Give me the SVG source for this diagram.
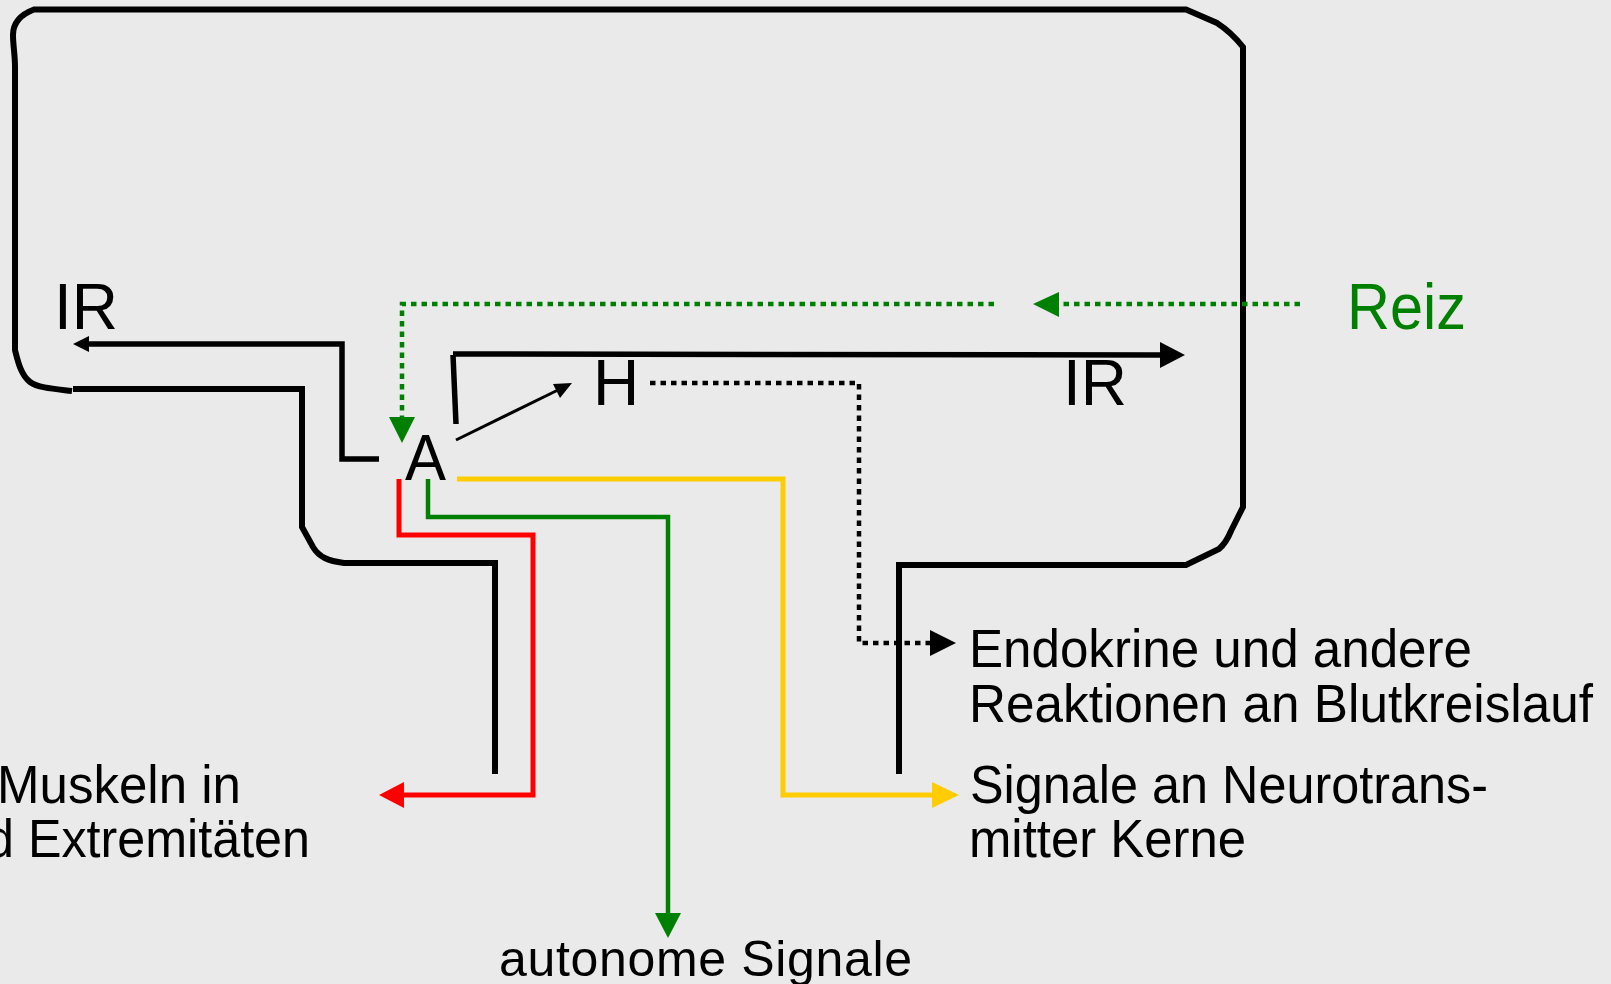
<svg xmlns="http://www.w3.org/2000/svg" width="1611" height="984" viewBox="0 0 1611 984">
<style>
.t{font-family:"Liberation Sans",Arial,sans-serif;fill:#000}
.big{font-size:64px}
.lbl{font-size:53px}
.ln{fill:none;stroke-linejoin:miter}
.k{stroke:#000}
.r{stroke:#FF0000}
.g{stroke:#008000}
.y{stroke:#FFCC00}
.dot{fill:none;stroke-width:4.5;stroke-dasharray:5.5 5}
</style>
<rect width="1611" height="984" fill="#EAEAEA"/>
<g id="connectors">
  <path id="tube" class="ln k" stroke-width="6" d="M495,774 V563 H344 C328,561 319,557 313,547 L302,527 V389 H73 M72,391 C55,389 38,388 30,382 C21,375 18,362 15,350 V67 C15,55 13,45 13,35 C13,22 22,14 34,9.5 H1186 L1217,23 Q1231,32 1243,47 V507 L1231,531 Q1226,543 1219,549 L1186,565 H899 V774"/>
  <g id="ir-left">
    <path class="ln k" stroke-width="5.5" d="M379,459 H342 V344 H88"/>
    <polygon points="73,344 89,336 89,352" fill="#000"/>
  </g>
  <g id="ir-right">
    <path class="ln k" stroke-width="5.5" d="M456,424 L453,355 M453,354 L1162,355"/>
    <polygon points="1185,355 1160,342 1160,368" fill="#000"/>
  </g>
  <g id="a-to-h">
    <line class="k" x1="456" y1="440" x2="558" y2="390" stroke-width="3"/>
    <polygon points="572,383 553,384 560,398" fill="#000"/>
  </g>
  <g id="red">
    <path class="ln r" stroke-width="5" d="M399,479 V535 H533 V795 H402"/>
    <polygon points="379,795 404,782 404,808" fill="#FF0000"/>
  </g>
  <g id="green">
    <path class="ln g" stroke-width="4.5" d="M428,479 V517 H668 V915"/>
    <polygon points="668,938 655,913 681,913" fill="#008000"/>
  </g>
  <g id="yellow">
    <path class="ln y" stroke-width="5" d="M457,479 H783 V795 H934"/>
    <polygon points="959,795 932,782 932,808" fill="#FFCC00"/>
  </g>
  <g id="h-endo">
    <path class="dot k" d="M650,383 H859 V643 H930"/>
    <polygon points="956,643 930,630 930,656" fill="#000"/>
  </g>
  <g id="reiz-arrow">
    <path class="dot g" d="M994,304 H402 V417"/>
    <polygon points="402,443 389,417 415,417" fill="#008000"/>
    <path class="dot g" d="M1300,304 H1059"/>
    <polygon points="1033,304 1059,292 1059,317" fill="#008000"/>
  </g>
</g>
<g id="node-IR-left"><text class="t big" x="54" y="329">IR</text></g>
<g id="node-IR-right"><text class="t big" x="1063" y="405">IR</text></g>
<g id="node-A"><text class="t big" x="405" y="480" textLength="41" lengthAdjust="spacingAndGlyphs">A</text></g>
<g id="node-H"><text class="t big" x="593" y="405">H</text></g>
<g id="node-Reiz"><text class="t big" x="1347" y="329" textLength="119" lengthAdjust="spacingAndGlyphs" style="fill:#008000">Reiz</text></g>
<g id="node-endokrine">
  <text class="t lbl" x="969" y="667" textLength="503" lengthAdjust="spacingAndGlyphs">Endokrine und andere</text>
  <text class="t lbl" x="969" y="722" textLength="624" lengthAdjust="spacingAndGlyphs">Reaktionen an Blutkreislauf</text>
</g>
<g id="node-signale">
  <text class="t lbl" x="970" y="803" textLength="518" lengthAdjust="spacingAndGlyphs">Signale an Neurotrans-</text>
  <text class="t lbl" x="969" y="857" textLength="277" lengthAdjust="spacingAndGlyphs">mitter Kerne</text>
</g>
<g id="node-muskeln">
  <text class="t lbl" x="-3" y="803" textLength="244" lengthAdjust="spacingAndGlyphs">Muskeln in</text>
  <text class="t lbl" x="-14" y="857" textLength="324" lengthAdjust="spacingAndGlyphs">d Extremitäten</text>
</g>
<g id="node-autonom">
  <text class="t" x="499" y="976" font-size="50" textLength="413">autonome Signale</text>
</g>
</svg>
